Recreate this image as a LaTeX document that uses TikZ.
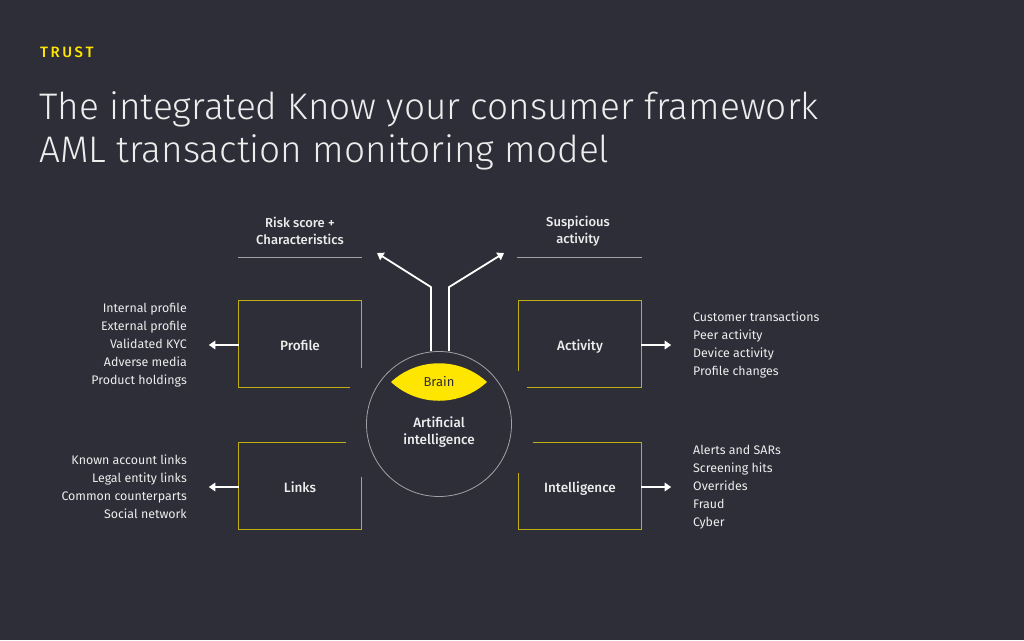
\documentclass[tikz,border=0pt]{standalone}
\usepackage{fontspec}
\setmainfont{Fira Sans}
\newfontfamily\lightfont{Fira Sans Light}
\newfontfamily\midfont{Fira Sans Medium}
\usetikzlibrary{arrows.meta,positioning,calc}
\definecolor{eydark}{HTML}{2E2E38}
\definecolor{eyyellow}{HTML}{FFE600}
\definecolor{eytext}{HTML}{EDEDED}
\colorlet{frameyellow}{eyyellow!70!eydark}
\colorlet{ringgray}{white!55!eydark}

\begin{document}
\begin{tikzpicture}[
  x=1pt, y=-1pt,
  box/.style={minimum width=122pt, minimum height=87pt, inner sep=0pt, text height=12pt, text depth=0pt, text=eytext, font=\midfont\fontsize{13.5}{16}\selectfont},
  frame/.style={frameyellow, line width=1.3pt},
  items/.style={text=eytext, inner sep=0pt, font=\fontsize{12.4}{18}\selectfont},
  outlbl/.style={text=eytext, align=center, font=\midfont\fontsize{13}{17}\selectfont},
  feed/.style={-{Triangle[length=6.5pt, width=8.5pt]}, white, line width=1.8pt},
  rule/.style={ringgray, line width=0.6pt},
]
  \fill[eydark] (0,0) rectangle (1024,640);
  \useasboundingbox (0,0) rectangle (1024,640);

  % heading
  \node[anchor=west, inner sep=0pt, text=eyyellow, font=\midfont\fontsize{15}{17}\selectfont] (trust) at (40,52) {T\,R\,U\,S\,T};
  \node[anchor=north west, inner sep=0pt, align=left, text=eytext, font=\lightfont\fontsize{37}{43}\selectfont] (title) at (39,91)
    {The integrated Know your consumer framework\\AML transaction monitoring model};

  % four boxes
  \node[box] (profile) at (300,344) {Profile};
  \node[box] (activity) at (580,344) {Activity};
  \node[box] (links) at (300,486) {Links};
  \node[box] (intel) at (580,486) {Intelligence};

  \draw[frame] ([yshift=20pt]profile.south east) -- (profile.north east) -- (profile.north west) -- (profile.south west) -- ([xshift=-11pt]profile.south east);
  \draw[frame] ([yshift=17pt]activity.south west) -- (activity.north west) -- (activity.north east) -- (activity.south east) -- ([xshift=8pt]activity.south west);
  \draw[frame] ([xshift=-15pt]links.north east) -- (links.north west) -- (links.south west) -- (links.south east) -- ([yshift=-35pt]links.north east);
  \draw[frame] ([xshift=14pt]intel.north west) -- (intel.north east) -- (intel.south east) -- (intel.south west) -- ([yshift=-31pt]intel.north west);

  % centre
  \node[circle, draw=ringgray, line width=0.8pt, minimum size=145pt, inner sep=0pt] (ai) at (439,424) {};
  \fill[eyyellow] (391,382) .. controls (418,357) and (460,357) .. (487,382) .. controls (460,407) and (418,407) .. cycle;
  \node[text=eydark, font=\fontsize{13}{16}\selectfont] (brain) at (439,382) {Brain};
  \node[align=center, text=eytext, font=\midfont\fontsize{13.5}{17}\selectfont] (aitext) at (439,432) {Artificial\\intelligence};

  % outputs
  \node[outlbl] (risk) at (300,231) {Risk score +\\Characteristics};
  \node[outlbl] (susp) at (578,231) {Suspicious\\activity};
  \draw[rule] (238,257) -- (362,257);
  \draw[rule] (517,257) -- (642,257);
  \coordinate (risktip) at (377,253);
  \coordinate (susptip) at (504,253);
  \draw[feed] ([xshift=-8pt]ai.north) -- ++(0,-64) -- (risktip);
  \draw[feed] ([xshift=10pt]ai.north) -- ++(0,-64) -- (susptip);

  % lists
  \node[items, anchor=east, align=right] (proflist) at (187,345)
    {Internal profile\\External profile\\Validated KYC\\Adverse media\\Product holdings};
  \node[items, anchor=east, align=right] (linklist) at (187,487)
    {Known account links\\Legal entity links\\Common counterparts\\Social network};
  \node[items, anchor=west, align=left] (actlist) at (693,345)
    {Customer transactions\\Peer activity\\Device activity\\Profile changes};
  \node[items, anchor=west, align=left] (intlist) at (693,487)
    {Alerts and SARs\\Screening hits\\Overrides\\Fraud\\Cyber};

  \draw[feed] ([yshift=-1pt]profile.west) -- ++(-30,0);
  \draw[feed] ([yshift=-1pt]links.west) -- ++(-30,0);
  \draw[feed] ([yshift=-1pt]activity.east) -- ++(30,0);
  \draw[feed] ([yshift=-1pt]intel.east) -- ++(30,0);
\end{tikzpicture}
\end{document}
